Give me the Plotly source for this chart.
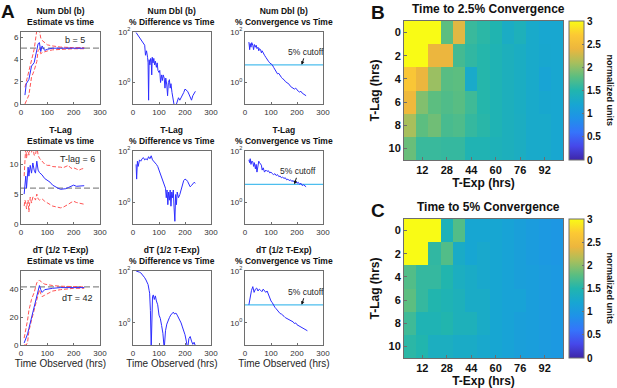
import math
import plotly.graph_objects as go

W, H = 617, 388
FONT = "Liberation Sans"

# ---------------- data ----------------
x_full = [0, 300]
true_b, true_lag, true_dt = 5, 6, 42
cutoff = 5

t_b = [15, 20, 30, 40, 50, 60, 65, 70, 75, 80, 90, 100, 120, 150, 200, 240]
b_est = [0.8, 1.8, 2.2, 3.4, 3.7, 4.8, 5.4, 5.5, 4.7, 5.2, 4.8, 4.9, 5.0, 5.0, 5.0, 5.0]
b_hi = [1.5, 2.0, 3.0, 3.9, 4.9, 6.6, 6.7, 6.6, 5.9, 5.7, 5.5, 5.3, 5.2, 5.1, 5.05, 5.05]
b_lo = [0.0, 0.3, 0.8, 2.4, 3.0, 3.8, 4.8, 4.9, 4.5, 4.6, 4.7, 4.75, 4.85, 4.9, 4.95, 4.95]

t_l = [12, 15, 18, 21, 24, 27, 30, 35, 40, 45, 50, 55, 60, 65, 70, 80, 90, 100, 110, 120,
       130, 140, 150, 160, 170, 180, 190, 200, 210, 220, 230, 240]
l_est = [5.0, 6.5, 8.0, 6.0, 7.5, 9.5, 8.0, 9.8, 8.5, 10.2, 9.0, 8.5, 10.5, 9.0, 8.6, 8.2,
         7.6, 7.3, 7.0, 6.5, 6.2, 6.0, 5.8, 5.8, 5.9, 6.1, 6.3, 6.5, 6.3, 6.3, 6.4, 6.4]
l_hi = [8.0, 10.5, 13, 11, 12.5, 13, 11.5, 13, 12, 13, 11.5, 11.5, 13, 11.5, 11, 10.5,
        10, 9.8, 9.8, 9.6, 9.6, 9.5, 9.5, 9.4, 9.6, 9.8, 9.3, 9.4, 9.2, 9.0, 9.2, 9.3]
l_lo = [3.0, 4.0, 3.5, 2.5, 3.5, 4.0, 2.0, 4.5, 3.5, 4.5, 4.5, 4.0, 5.0, 4.2, 4.0, 4.2,
        3.8, 3.5, 3.2, 3.0, 2.9, 2.8, 2.7, 2.8, 3.0, 3.3, 3.6, 3.8, 3.6, 3.5, 3.4, 3.3]

t_d = [12, 20, 25, 30, 40, 50, 60, 70, 75, 80, 90, 100, 120, 150, 200, 240]
d_est = [1.5, 5, 8, 12, 20, 27, 36, 43, 40, 38, 40, 40.5, 41, 41.5, 41.5, 41.5]
d_hi = [5, 12, 18, 25, 33, 38, 45, 47, 46, 45, 44, 43.5, 43, 42.5, 42, 42]
d_lo = [0, 0, 2, 10, 18, 25, 32, 40, 37, 35, 36, 37, 39, 40, 41, 41]

t_bd = [12, 15, 20, 25, 30, 35, 40, 45, 48, 52, 56, 58, 60, 62, 65, 68, 70, 72, 74, 77,
        80, 83, 86, 90, 93, 96, 100, 103, 106, 110, 113, 116, 120, 123, 126, 130, 133, 136,
        140, 143, 146, 150, 155, 160, 165, 170, 175, 180, 185, 190, 195, 200, 205, 210, 215,
        220, 225, 230, 235, 240]
b_diff = [95, 85, 75, 60, 50, 40, 35, 30, 12, 18, 10, 6, 0.2, 8, 5, 9, 8, 2, 10, 6,
          9, 5, 7, 4, 6, 3, 2.5, 3, 1, 2, 1.2, 2, 1.5, 0.6, 1.5, 0.8, 0.3, 1,
          1.3, 0.6, 0.9, 0.4, 0.2, 0.1, 0.12, 0.2, 0.25, 0.2, 0.25, 0.3, 0.4, 0.55, 0.5, 0.45, 0.35,
          0.25, 0.2, 0.3, 0.4, 0.45]

t_ld = [12, 14, 17, 20, 25, 30, 35, 40, 45, 50, 55, 60, 65, 70, 75, 80, 85, 90, 95, 100,
        105, 110, 115, 120, 125, 128, 131, 134, 137, 140, 143, 146, 149, 152, 155, 158, 161,
        164, 167, 170, 175, 180, 185, 190, 195, 200, 205, 210, 215, 220, 225, 230, 235, 240]
l_diff = [30, 8, 40, 25, 45, 40, 50, 55, 45, 50, 45, 60, 50, 65, 45, 40, 35, 30, 25, 18,
          12, 9, 6, 5, 3.5, 1.5, 3, 0.8, 2.5, 1.2, 3, 0.7, 2.5, 1.5, 3, 0.6, 0.18,
          2, 0.8, 2.5, 1.5, 2, 3, 5, 7, 8, 7.5, 6.5, 5, 4, 4.5, 5, 6, 5.5]

t_dd = [12, 18, 25, 30, 35, 40, 45, 50, 55, 58, 62, 64, 67, 70, 75, 78, 82, 86, 90, 95,
        100, 105, 110, 115, 120, 125, 130, 135, 140, 145, 150, 155, 160, 165, 170, 175, 180,
        185, 190, 195, 200, 205, 210, 215, 220, 225, 230, 235, 240]
d_diff = [100, 98, 90, 85, 75, 65, 55, 45, 35, 30, 18, 14, 3, 0.1, 10, 12, 8, 11, 7, 5,
          2, 1.5, 0.8, 0.4, 0.1, 0.5, 0.9, 1.3, 1.6, 2.0, 2.4, 2.6, 2.2, 2.4, 2.0, 1.6, 1.3,
          1.0, 0.7, 0.5, 0.35, 0.2, 0.1, 0.25, 0.3, 0.2, 0.15, 0.18, 0.13]

t_conv = [15, 18, 20, 23, 26, 30, 33, 36, 40, 43, 46, 50, 53, 56, 60, 63, 66, 70, 75, 80,
          85, 90, 95, 100, 105, 110, 115, 120, 125, 130, 135, 140, 145, 150, 155, 160, 165,
          170, 175, 180, 185, 190, 195, 200, 205, 210, 215, 220, 225, 230, 235]
b_conv = [40, 20, 35, 25, 38, 30, 20, 32, 25, 30, 22, 25, 18, 22, 20, 15, 18, 14, 12, 10,
          8, 7, 6, 5.5, 5, 4, 3.3, 2.8, 2.2, 2.3, 1.8, 1.6, 1.4, 1.3, 1.1, 1.0, 0.9,
          0.85, 0.7, 0.65, 0.6, 0.55, 0.6, 0.5, 0.45, 0.42, 0.45, 0.38, 0.35, 0.33, 0.3]
l_conv = [45, 35, 50, 30, 40, 38, 25, 35, 20, 30, 15, 25, 40, 35, 30, 28, 18, 22, 15, 18,
          16, 17, 14, 15, 13, 12, 13, 11, 12, 10, 10.5, 9, 9.5, 8.5, 9, 7.5, 8,
          7, 7.5, 6.5, 7, 6, 6.5, 5.5, 6, 5, 5.5, 4.5, 4.8, 4.2, 4]

t_dc = [15, 20, 25, 30, 35, 40, 45, 50, 55, 60, 65, 70, 75, 80, 85, 90, 95, 100, 105, 110,
        115, 120, 125, 130, 135, 140, 145, 150, 155, 160, 165, 170, 175, 180, 185, 190, 195,
        200, 205, 210, 215, 220, 225, 230, 235, 240]
d_conv = [5, 12, 18, 25, 15, 20, 22, 17, 20, 18, 16, 20, 18, 15, 17, 12, 9, 7, 6, 4.5,
          4, 3.5, 3, 2.8, 2.3, 2.2, 1.9, 1.8, 1.6, 1.5, 1.4, 1.3, 1.2, 1.15, 1.1, 0.95, 1.0,
          0.85, 0.8, 0.75, 0.7, 0.65, 0.6, 0.58, 0.52, 0.5]

t_exp = [4, 12, 20, 28, 36, 44, 52, 60, 68, 76, 84, 92, 100]
t_lag = [0, 2, 4, 6, 8, 10]
z_25 = [
    [3.0, 3.0, 3.0, 1.8, 2.35, 1.62, 1.55, 1.48, 1.32, 1.4, 1.27, 1.22, 1.22],
    [3.0, 3.0, 2.4, 2.4, 1.68, 1.58, 1.52, 1.45, 1.38, 1.33, 1.27, 1.23, 1.22],
    [2.65, 2.4, 2.05, 1.78, 1.8, 1.27, 1.52, 1.45, 1.38, 1.33, 1.27, 1.17, 1.22],
    [2.45, 1.95, 1.8, 1.74, 1.78, 1.65, 1.52, 1.45, 1.38, 1.33, 1.27, 1.23, 1.22],
    [2.1, 1.8, 1.88, 1.7, 1.73, 1.6, 1.54, 1.45, 1.38, 1.34, 1.27, 1.27, 1.22],
    [1.85, 1.62, 1.62, 1.6, 1.6, 1.46, 1.46, 1.42, 1.38, 1.34, 1.27, 1.27, 1.22],
]
z_5 = [
    [3.0, 3.0, 3.0, 1.42, 1.75, 1.2, 1.2, 1.2, 1.15, 1.1, 1.05, 1.0, 0.97],
    [3.0, 3.0, 1.58, 1.75, 1.3, 1.2, 1.25, 1.2, 1.15, 1.1, 1.05, 1.0, 0.97],
    [1.75, 1.6, 1.6, 1.5, 1.35, 1.3, 1.25, 1.2, 1.15, 1.1, 1.08, 1.03, 1.0],
    [1.8, 1.6, 1.5, 1.45, 1.4, 1.3, 1.3, 1.2, 1.15, 1.15, 1.08, 1.03, 1.0],
    [1.65, 1.45, 1.45, 1.5, 1.4, 1.4, 1.3, 1.2, 1.15, 1.1, 1.08, 1.03, 1.0],
    [1.55, 1.5, 1.35, 1.35, 1.3, 1.3, 1.25, 1.2, 1.15, 1.1, 1.08, 1.03, 1.0],
]
cbar_ticks = [0, 0.5, 1, 1.5, 2, 2.5, 3]
cbar_labels = ["0", "0.5", "1", "1.5", "2", "2.5", "3"]

parula = [
    [0.0, "#3e26a8"], [0.1, "#4648ea"], [0.2, "#3574fb"], [0.3, "#1f92e8"],
    [0.4, "#17a6d2"], [0.5, "#21b5ae"], [0.6, "#5cbe80"], [0.7, "#a8bf5c"],
    [0.8, "#ecb63e"], [0.9, "#fcc934"], [1.0, "#f9fb15"],
]

# ---------------- layout helpers ----------------
def fx(p): return p / W
def fy(p): return 1 - p / H

cols_x = [(21, 100), (133, 211), (245, 323)]
rows_y = [(32, 104), (151, 224), (271, 345)]

fig = go.Figure()
layout = dict(template="none", width=W, height=H, margin=dict(l=0, r=0, t=0, b=0, pad=0),
              paper_bgcolor="white", plot_bgcolor="white", showlegend=False,
              font=dict(family=FONT, color="#262626"))
annotations = []

AX_COL = "#6e6e6e"
BLUE = "rgb(45,45,255)"
RED = "rgb(255,85,85)"
CYAN = "#4DBEEE"


def axname(n):
    return ("xaxis" if n == 1 else f"xaxis{n}"), ("yaxis" if n == 1 else f"yaxis{n}")


def ref(n):
    return ("x" if n == 1 else f"x{n}"), ("y" if n == 1 else f"y{n}")


def base_axis(dom):
    return dict(domain=dom, showline=True, mirror=True, linecolor=AX_COL, linewidth=1,
                ticks="inside", ticklen=2, tickcolor=AX_COL, showgrid=False, zeroline=False,
                automargin=False,
                tickfont=dict(size=8, color="#333333", family=FONT))


row_names = ["Num Dbl (b)", "T-Lag", "dT (1/2 T-Exp)"]
col_names = ["Estimate vs time", "% Difference vs Time", "% Convergence vs Time"]
est = [(t_b, b_est, b_hi, b_lo, true_b), (t_l, l_est, l_hi, l_lo, true_lag),
       (t_d, d_est, d_hi, d_lo, true_dt)]
diffs = [(t_bd, b_diff), (t_ld, l_diff), (t_dd, d_diff)]
convs = [(t_conv, b_conv), (t_conv, l_conv), (t_dc, d_conv)]
yranges = [[0, 6.45], [0, 12.2], [0, 53.5]]
yticks = [[0, 2, 4, 6], [0, 5, 10], [0, 20, 40]]
true_text = ["b = 5", "T-lag = 6", "dT = 42"]
true_text_pos = [(205, 5.75), (215, 10.9), (215, 34)]
arrow_x = [218, 190, 218]

for r in range(3):
    for c in range(3):
        n = r * 3 + c + 1
        xa, ya = axname(n)
        xr, yr = ref(n)
        xd = [fx(cols_x[c][0]), fx(cols_x[c][1])]
        yd = [fy(rows_y[r][1]), fy(rows_y[r][0])]
        xax = base_axis(xd)
        xax.update(range=[0, 300], tickvals=[0, 100, 200, 300], anchor=yr)
        if r == 2:
            xax.update(title=dict(text="Time Observed (hrs)", standoff=3,
                                  font=dict(size=10, color="#262626", family=FONT)))
        yax = base_axis(yd)
        yax.update(anchor=xr)
        if c == 0:
            t, e, hi, lo, tv = est[r]
            yax.update(range=yranges[r], tickvals=yticks[r])
            fig.add_trace(go.Scatter(x=x_full, y=[tv, tv], mode="lines", xaxis=xr, yaxis=yr,
                                     line=dict(color="#8a8a8a", width=1.3, dash="6px,3px")))
            fig.add_trace(go.Scatter(x=t, y=hi, mode="lines", xaxis=xr, yaxis=yr,
                                     line=dict(color=RED, width=1, dash="4px,2px")))
            fig.add_trace(go.Scatter(x=t, y=lo, mode="lines", xaxis=xr, yaxis=yr,
                                     line=dict(color=RED, width=1, dash="4px,2px")))
            fig.add_trace(go.Scatter(x=t, y=e, mode="lines", xaxis=xr, yaxis=yr,
                                     line=dict(color=BLUE, width=1)))
            annotations.append(dict(x=true_text_pos[r][0], y=true_text_pos[r][1], xref=xr, yref=yr,
                                    text=true_text[r], showarrow=False,
                                    font=dict(size=9, color="#262626", family=FONT)))
        else:
            yax.update(type="log", range=[-0.85, 2], tickvals=[1, 100],
                       ticktext=["10<sup>0</sup>", "10<sup>2</sup>"])
            if c == 1:
                t, v = diffs[r]
                fig.add_trace(go.Scatter(x=t, y=v, mode="lines", xaxis=xr, yaxis=yr,
                                         line=dict(color=BLUE, width=1)))
            else:
                t, v = convs[r]
                fig.add_trace(go.Scatter(x=x_full, y=[cutoff, cutoff], mode="lines", xaxis=xr,
                                         yaxis=yr, line=dict(color=CYAN, width=1.2)))
                fig.add_trace(go.Scatter(x=t, y=v, mode="lines", xaxis=xr, yaxis=yr,
                                         line=dict(color=BLUE, width=1)))
                annotations.append(dict(x=arrow_x[r], y=math.log10(cutoff), xref=xr, yref=yr,
                                        text="5% cutoff", showarrow=True, ax=4, ay=-13,
                                        arrowhead=2, arrowsize=0.7, arrowwidth=1,
                                        arrowcolor="#111111",
                                        font=dict(size=8.5, color="#262626", family=FONT)))
        layout[xa] = xax
        layout[ya] = yax
        # panel titles
        cx = fx((cols_x[c][0] + cols_x[c][1]) / 2)
        annotations.append(dict(x=cx, y=fy(rows_y[r][0] - 3), xref="paper", yref="paper",
                                xanchor="center", yanchor="bottom", showarrow=False,
                                text=f"<b>{row_names[r]}</b><br><b>{col_names[c]}</b>",
                                font=dict(size=8.5, color="#111111", family=FONT)))

# ---------------- heatmaps ----------------
hm = [(z_25, 10, (21, 160), "Time to 2.5% Convergence", "B"),
      (z_5, 11, (219, 358), "Time to 5% Convergence", "C")]
for z, n, (y0, y1), title, letter in hm:
    xa, ya = axname(n)
    xr, yr = ref(n)
    fig.add_trace(go.Heatmap(
        x=t_exp, y=t_lag, z=z, xaxis=xr, yaxis=yr, zmin=0, zmax=3, colorscale=parula,
        colorbar=dict(x=fx(569), xanchor="left", y=fy((y0 + y1) / 2), yanchor="middle",
                      len=(y1 - y0) / H, lenmode="fraction", thickness=15, thicknessmode="pixels",
                      xpad=0, ypad=0, outlinecolor=AX_COL, outlinewidth=1,
                      tickmode="array", tickvals=cbar_ticks,
                      ticktext=[f"<b>{s}</b>" for s in cbar_labels],
                      ticks="inside", ticklen=2, tickcolor=AX_COL,
                      tickfont=dict(size=10, color="#111111", family=FONT))))
    layout[xa] = dict(domain=[fx(404), fx(563)], anchor=yr, range=[0, 104],
                      tickvals=[12, 28, 44, 60, 76, 92], ticks="inside", ticklen=3,
                      tickcolor=AX_COL, showline=True, mirror=True, linecolor=AX_COL,
                      showgrid=False, zeroline=False, automargin=False,
                      tickfont=dict(size=11, color="#111111", family=FONT, weight="bold"),
                      title=dict(text="<b>T-Exp (hrs)</b>", standoff=2,
                                 font=dict(size=12, color="#111111", family=FONT)))
    layout[ya] = dict(domain=[fy(y1), fy(y0)], anchor=xr, range=[11, -1],
                      tickvals=t_lag, ticks="inside", ticklen=3,
                      tickcolor=AX_COL, showline=True, mirror=True, linecolor=AX_COL,
                      showgrid=False, zeroline=False, automargin=False,
                      tickfont=dict(size=11, color="#111111", family=FONT, weight="bold"),
                      title=dict(text="<b>T-Lag (hrs)</b>", standoff=6,
                                 font=dict(size=12, color="#111111", family=FONT)))
    annotations.append(dict(x=fx(488), y=fy(y0 - 3), xref="paper", yref="paper",
                            xanchor="center", yanchor="bottom", showarrow=False,
                            text=f"<b>{title}</b>",
                            font=dict(size=12, color="#111111", family=FONT)))
    annotations.append(dict(x=fx(378), y=fy(y0 - 9), xref="paper", yref="paper",
                            xanchor="center", yanchor="middle", showarrow=False,
                            text=f"<b>{letter}</b>",
                            font=dict(size=19, color="#111111", family=FONT)))
    annotations.append(dict(x=fx(610), y=fy((y0 + y1) / 2), xref="paper", yref="paper",
                            xanchor="center", yanchor="middle", showarrow=False, textangle=90,
                            text="<b>normalized units</b>",
                            font=dict(size=9, color="#111111", family=FONT)))

annotations.append(dict(x=fx(8), y=fy(11), xref="paper", yref="paper", xanchor="center",
                        yanchor="middle", showarrow=False, text="<b>A</b>",
                        font=dict(size=19, color="#111111", family=FONT)))

layout["annotations"] = annotations
fig.update_layout(**layout)
fig.write_html("out.html", config={"displayModeBar": False},
               post_script="document.body.style.margin='0px';document.body.style.overflow='hidden';")
